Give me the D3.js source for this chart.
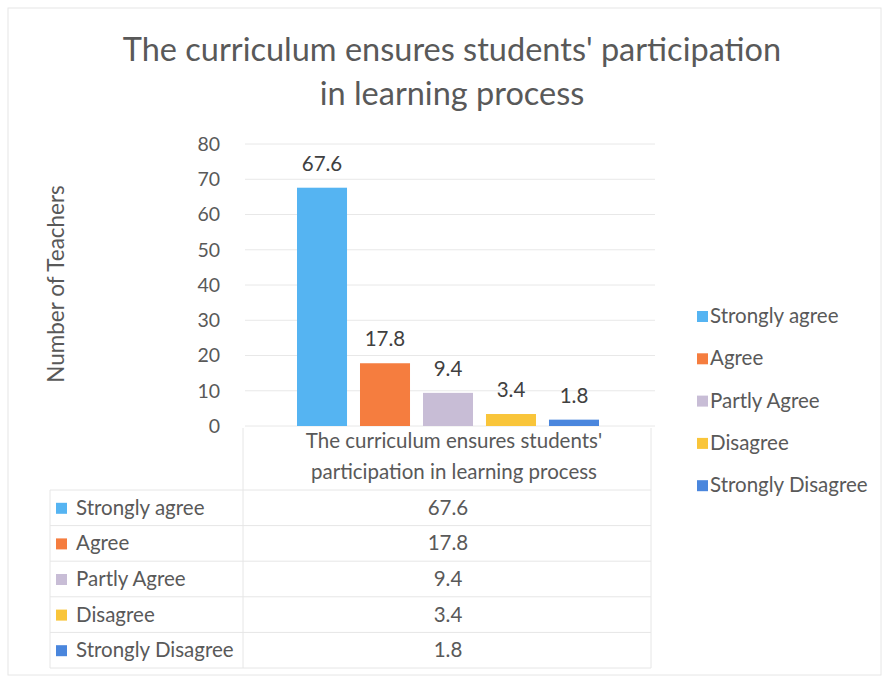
<!DOCTYPE html>
<html>
<head>
<meta charset="utf-8">
<script src="https://cdn.jsdelivr.net/npm/d3@7"></script>
<style>
  body { margin: 0; background: #fff; }
  text { font-family: Lato, "Open Sans", sans-serif; }
</style>
</head>
<body>
<div id="chart"></div>
<script>
var categories = ["Strongly agree", "Agree", "Partly Agree", "Disagree", "Strongly Disagree"];
var values = [67.6, 17.8, 9.4, 3.4, 1.8];
var colors = ["#55b4f2", "#f57d3f", "#c8bdd6", "#f9c53a", "#4a86dd"];
var yTicks = [0, 10, 20, 30, 40, 50, 60, 70, 80];
var groupLabel = ["The curriculum ensures students'", "participation in learning process"];
var titleLines = ["The curriculum ensures students' participation", "in learning process"];

var w = 883, h = 677;
var plotLeft = 245, plotRight = 655, plotTop = 144, plotBottom = 426;
var fs = "20.5px";

var svg = d3.select("#chart")
    .append("svg")
    .attr("width", w)
    .attr("height", h);

svg.append("rect")
    .attr("x", 8).attr("y", 8)
    .attr("width", w - 10).attr("height", h - 10)
    .attr("fill", "#fff")
    .attr("stroke", "#e6e6e6");

// title
svg.selectAll(".title")
    .data(titleLines)
    .enter()
    .append("text")
    .attr("x", 452)
    .attr("y", function (d, i) { return 61 + i * 44; })
    .attr("text-anchor", "middle")
    .attr("font-size", "32.5px")
    .attr("fill", "#595959")
    .text(function (d) { return d; });

var y = d3.scaleLinear().domain([0, 80]).range([plotBottom, plotTop]);
var x = d3.scaleBand().domain(categories).range([297, 599]).paddingInner(0.206).paddingOuter(0);

// gridlines
svg.selectAll(".grid")
    .data(yTicks)
    .enter()
    .append("line")
    .attr("x1", plotLeft).attr("x2", plotRight)
    .attr("y1", function (d) { return y(d); })
    .attr("y2", function (d) { return y(d); })
    .attr("stroke", "#e8e8e8");

// y axis
var yAxis = svg.append("g")
    .attr("transform", "translate(" + (plotLeft - 21) + ",0)")
    .call(d3.axisLeft(y).tickValues(yTicks).tickSize(0).tickPadding(4));
yAxis.select(".domain").remove();
yAxis.selectAll("text")
    .attr("font-size", "19.5px")
    .attr("fill", "#595959")
    .attr("font-family", "Lato, sans-serif");

svg.append("text")
    .attr("transform", "translate(64,284) rotate(-90)")
    .attr("text-anchor", "middle")
    .attr("font-size", "22.5px")
    .attr("fill", "#595959")
    .text("Number of Teachers");

// bars
svg.selectAll(".bar")
    .data(values)
    .enter()
    .append("rect")
    .attr("x", function (d, i) { return x(categories[i]); })
    .attr("width", x.bandwidth())
    .attr("y", function (d) { return y(d); })
    .attr("height", function (d) { return plotBottom - y(d); })
    .attr("fill", function (d, i) { return colors[i]; });

svg.selectAll(".lbl")
    .data(values)
    .enter()
    .append("text")
    .attr("x", function (d, i) { return x(categories[i]) + x.bandwidth() / 2; })
    .attr("y", function (d) { return y(d) - 17; })
    .attr("text-anchor", "middle")
    .attr("font-size", fs)
    .attr("fill", "#404040")
    .text(function (d) { return d; });

// data table
var rowTop = 490, rowH = 35.6;
var tableLeft = 50;
var lineColor = "#e6e6e6";

svg.append("line")
    .attr("x1", plotLeft - 2).attr("x2", plotLeft - 2)
    .attr("y1", plotBottom + 2).attr("y2", rowTop + rowH * 5)
    .attr("stroke", lineColor);
svg.append("line")
    .attr("x1", plotRight - 4).attr("x2", plotRight - 4)
    .attr("y1", plotBottom + 2).attr("y2", rowTop + rowH * 5)
    .attr("stroke", lineColor);
svg.append("line")
    .attr("x1", tableLeft).attr("x2", tableLeft)
    .attr("y1", rowTop).attr("y2", rowTop + rowH * 5)
    .attr("stroke", lineColor);

svg.selectAll(".hrow")
    .data(d3.range(6))
    .enter()
    .append("line")
    .attr("x1", tableLeft).attr("x2", plotRight - 4)
    .attr("y1", function (d) { return rowTop + d * rowH; })
    .attr("y2", function (d) { return rowTop + d * rowH; })
    .attr("stroke", lineColor);

svg.selectAll(".glbl")
    .data(groupLabel)
    .enter()
    .append("text")
    .attr("x", 454)
    .attr("y", function (d, i) { return 448 + i * 31; })
    .attr("text-anchor", "middle")
    .attr("font-size", fs)
    .attr("fill", "#595959")
    .text(function (d) { return d; });

var rows = svg.selectAll(".trow")
    .data(categories)
    .enter()
    .append("g")
    .attr("transform", function (d, i) { return "translate(0," + (rowTop + i * rowH + rowH / 2) + ")"; });

rows.append("rect")
    .attr("x", 56).attr("y", -5)
    .attr("width", 11).attr("height", 11)
    .attr("fill", function (d, i) { return colors[i]; });
rows.append("text")
    .attr("x", 76).attr("y", 7)
    .attr("font-size", fs)
    .attr("fill", "#595959")
    .text(function (d) { return d; });
rows.append("text")
    .attr("x", 448).attr("y", 7)
    .attr("text-anchor", "middle")
    .attr("font-size", fs)
    .attr("fill", "#595959")
    .text(function (d, i) { return values[i]; });

// legend
var legend = svg.selectAll(".leg")
    .data(categories)
    .enter()
    .append("g")
    .attr("transform", function (d, i) { return "translate(697," + (316 + i * 42.3) + ")"; });

legend.append("rect")
    .attr("x", 0).attr("y", -5)
    .attr("width", 11).attr("height", 11)
    .attr("fill", function (d, i) { return colors[i]; });
legend.append("text")
    .attr("x", 13).attr("y", 7)
    .attr("font-size", fs)
    .attr("fill", "#595959")
    .text(function (d) { return d; });
</script>
</body>
</html>
